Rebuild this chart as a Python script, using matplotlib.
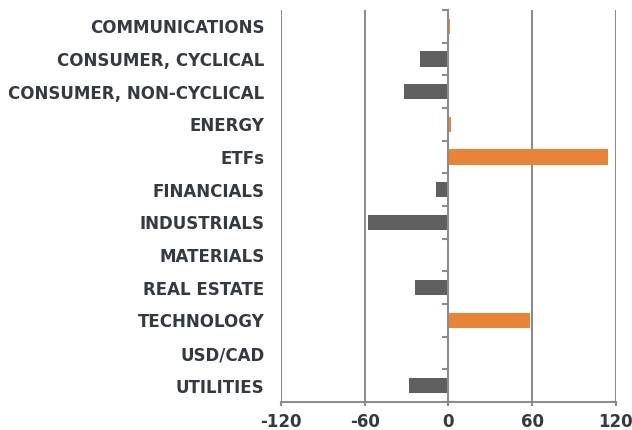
"""Sector net flows, horizontal bar chart."""

import matplotlib.pyplot as plt

# Data
sectors = [
    "COMMUNICATIONS",
    "CONSUMER, CYCLICAL",
    "CONSUMER, NON-CYCLICAL",
    "ENERGY",
    "ETFs",
    "FINANCIALS",
    "INDUSTRIALS",
    "MATERIALS",
    "REAL ESTATE",
    "TECHNOLOGY",
    "USD/CAD",
    "UTILITIES",
]
values = [1.2, -20, -32, 1.6, 114.5, -8.5, -57.5, -0.8, -24, 58.5, 0.3, -28]
xticks = [-120, -60, 0, 60, 120]

# Colours
orange = "#E8843A"
grey = "#5F5F5F"
text_col = "#343A40"
line_col = "#8C8C8C"

plt.rcParams["font.family"] = ["DejaVu Sans"]

fig = plt.figure(figsize=(6.32, 4.30), dpi=100)
ax = fig.add_axes([281 / 632, 28 / 430, (615.7 - 281) / 632, (402 - 10) / 430])

ypos = list(range(len(sectors)))
colors = [orange if v > 0 else grey for v in values]
ax.barh(ypos, values, height=0.46, color=colors, zorder=3)

ax.set_xlim(-120, 120)
ax.set_ylim(len(sectors) - 0.5, -0.5)

# Grid lines at the x ticks
for x in xticks:
    if x != 0:
        ax.axvline(x, color=line_col, linewidth=1.5, zorder=1)

# Zero axis with category tick marks
ax.axvline(0, color=line_col, linewidth=1.5, zorder=4)
for b in range(len(sectors) + 1):
    ax.plot([-3.5, 0], [b - 0.5, b - 0.5], color=line_col, linewidth=1.5,
            zorder=4, clip_on=False)

for side in ["top", "right", "left"]:
    ax.spines[side].set_visible(False)
ax.spines["bottom"].set_color(line_col)
ax.spines["bottom"].set_linewidth(1.5)

ax.set_xticks(xticks)
ax.set_xticklabels([str(x) for x in xticks])
ax.tick_params(axis="x", length=3, width=1.5, color=line_col, pad=5,
               labelsize=12, labelcolor=text_col)
for lbl in ax.get_xticklabels():
    lbl.set_fontweight("bold")

ax.set_yticks(ypos)
ax.set_yticklabels(sectors)
ax.tick_params(axis="y", length=0, pad=12, labelsize=12, labelcolor=text_col)
for lbl in ax.get_yticklabels():
    lbl.set_fontweight("bold")

fig.savefig("out.png", dpi=100)
